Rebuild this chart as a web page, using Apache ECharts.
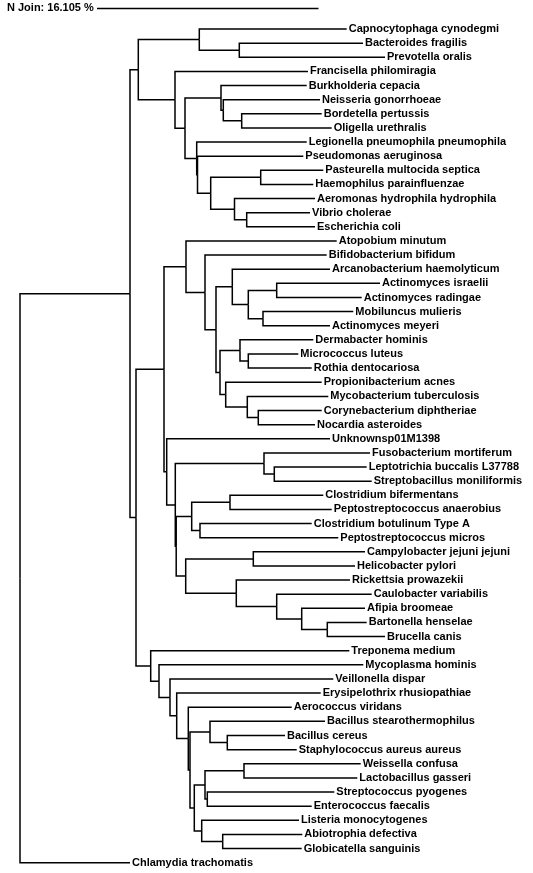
<!DOCTYPE html>
<html><head><meta charset="utf-8">
<script src="https://cdn.jsdelivr.net/npm/echarts@6/dist/echarts.min.js"></script>
<style>html,body{margin:0;padding:0;background:#fff}#c{width:533px;height:873px}</style>
</head><body><div id="c"></div>
<script>
// Leaf taxa, top to bottom
const leafNames = [
  'Capnocytophaga cynodegmi','Bacteroides fragilis','Prevotella oralis','Francisella philomiragia',
  'Burkholderia cepacia','Neisseria gonorrhoeae','Bordetella pertussis','Oligella urethralis',
  'Legionella pneumophila pneumophila','Pseudomonas aeruginosa','Pasteurella multocida septica',
  'Haemophilus parainfluenzae','Aeromonas hydrophila hydrophila','Vibrio cholerae','Escherichia coli',
  'Atopobium minutum','Bifidobacterium bifidum','Arcanobacterium haemolyticum','Actinomyces israelii',
  'Actinomyces radingae','Mobiluncus mulieris','Actinomyces meyeri','Dermabacter hominis',
  'Micrococcus luteus','Rothia dentocariosa','Propionibacterium acnes','Mycobacterium tuberculosis',
  'Corynebacterium diphtheriae','Nocardia asteroides','Unknownsp01M1398','Fusobacterium mortiferum',
  'Leptotrichia buccalis L37788','Streptobacillus moniliformis','Clostridium bifermentans',
  'Peptostreptococcus anaerobius','Clostridium botulinum Type A','Peptostreptococcus micros',
  'Campylobacter jejuni jejuni','Helicobacter pylori','Rickettsia prowazekii','Caulobacter variabilis',
  'Afipia broomeae','Bartonella henselae','Brucella canis','Treponema medium','Mycoplasma hominis',
  'Veillonella dispar','Erysipelothrix rhusiopathiae','Aerococcus viridans','Bacillus stearothermophilus',
  'Bacillus cereus','Staphylococcus aureus aureus','Weissella confusa','Lactobacillus gasseri',
  'Streptococcus pyogenes','Enterococcus faecalis','Listeria monocytogenes','Abiotrophia defectiva',
  'Globicatella sanguinis','Chlamydia trachomatis'
];
// Distance of each leaf from the root (chart distance units)
const leafDist = [
  326.7,343,365,288, 286.7,300,301.7,311.7, 286.7,283.3,303.3,293.3,295,290,295,
  316.7,306.7,310,360,341.7,333.3,310,293.3,278.3,291.7,301.7,308.3,301.7,295,
  310,350,346.7,351.7,303.3,311.7,291.7,318.3,345,335,330,351.7,345,346.7,365,
  329.3,343.3,313.3,300.7,271.7,305,265,276.7,340.7,337.3,314.3,291.7,279,282.3,281.7,
  110
];
// Internal nodes: [id, childA, childB, distance from root]; numbers = leaf index
const innerNodes = [
  ['BP',1,2,219.3],['Bac',0,'BP',179.3],
  ['BO',6,7,221.7],['N',5,'BO',203.3],['beta',4,'N',201],
  ['PH',10,11,240.7],['VE',13,14,226.7],['AVE',12,'VE',214.5],['G3','PH','AVE',190.7],
  ['G2',9,'G3',177.5],['G1',8,'G2',176.7],['Q','beta','G1',165],['P',3,'Q',155],['B','Bac','P',118.3],
  ['X6',18,19,256.7],['X7',20,21,243],['X5','X6','X7',228.3],['X4',17,'X5',212.3],
  ['X10',23,24,228.3],['X9',22,'X10',220],['X13',27,28,238.3],['X12',26,'X13',227.3],
  ['X11',25,'X12',205.7],['X8','X9','X11',200],['X3','X4','X8',196],['X2',16,'X3',185],['X1',15,'X2',166],
  ['LS',31,32,254.3],['Fu',30,'LS',244],['CP',33,34,210],['CP2',35,36,180],['Cl','CP','CP2',171.7],
  ['CH',37,38,233.3],['BB',42,43,307.3],['AB',41,'BB',281.7],['CAB',40,'AB',256.7],['Ri',39,'CAB',216.3],
  ['CR','CH','Ri',165.7],['D4','Cl','CR',156.2],['D3','Fu','D4',155.3],['D2',29,'D3',146.7],['D','X1','D2',144],
  ['BS',50,51,207.3],['Ba',49,'BS',190],['WL',52,53,224],['SE',54,55,187.3],['WS','WL','SE',185],
  ['AG',57,58,202.7],['LAG',56,'AG',181.7],['WSL','WS','LAG',174.3],['BW','Ba','WSL',170],
  ['E5',48,'BW',168.3],['E4',47,'E5',156.7],['E3',46,'E4',150],['E2',45,'E3',139],['E',44,'E2',130.7],
  ['C','D','E',116],['A','B','C',110],['root','A',59,0]
];
const titleText = 'N Join: 16.105 %';
const scaleBarLength = 221.5;

const nodeMap = {};
innerNodes.forEach(n => nodeMap[n[0]] = n);
const posCache = {};
function pos(ref) {
  if (typeof ref === 'number') return [leafDist[ref], ref];
  if (posCache[ref]) return posCache[ref];
  const n = nodeMap[ref];
  const a = pos(n[1]), b = pos(n[2]);
  return posCache[ref] = [n[3], (a[1] + b[1]) / 2];
}
const edges = [];
innerNodes.forEach(n => {
  const p = pos(n[0]);
  [n[1], n[2]].forEach(c => { const q = pos(c); edges.push([p[0], p[1], q[0], q[1]]); });
});
const labelData = leafNames.map((name, i) => [leafDist[i], i, name]);

const FONT = 'bold 11px "Liberation Sans", Arial, sans-serif';
const chart = echarts.init(document.getElementById('c'), null, {renderer: 'canvas'});
const rowStep = 14.13, firstRow = 29;
chart.setOption({
  animation: false,
  backgroundColor: '#fff',
  grid: {left: 0, right: 0, top: 0, bottom: 0, containLabel: false},
  xAxis: {type: 'value', min: -20, max: 513, show: false},
  yAxis: {type: 'value', inverse: true, min: -firstRow / rowStep, max: (873 - firstRow) / rowStep, show: false},
  graphic: [
    {type: 'text', left: 7, top: 2, style: {text: titleText, font: FONT, fill: '#000'}},
    {type: 'line', shape: {x1: 97, y1: 8.5, x2: 97 + scaleBarLength, y2: 8.5}, style: {stroke: '#000', lineWidth: 1.5}}
  ],
  series: [
    {
      type: 'custom', coordinateSystem: 'cartesian2d', data: edges, encode: {x: [0, 2], y: [1, 3]},
      renderItem: (params, api) => {
        const p = api.coord([api.value(0), api.value(1)]);
        const c = api.coord([api.value(2), api.value(3)]);
        return {type: 'polyline', shape: {points: [p, [p[0], c[1]], c]},
          style: {stroke: '#000', lineWidth: 1.5, fill: null}};
      }
    },
    {
      type: 'custom', coordinateSystem: 'cartesian2d', data: labelData, encode: {x: 0, y: 1},
      renderItem: (params, api) => {
        const c = api.coord([api.value(0), api.value(1)]);
        return {type: 'text', x: c[0] + 2, y: c[1],
          style: {text: labelData[params.dataIndex][2], font: FONT, fill: '#000',
            align: 'left', verticalAlign: 'middle', textAlign: 'left', textVerticalAlign: 'middle'}};
      }
    }
  ]
});
</script></body></html>
